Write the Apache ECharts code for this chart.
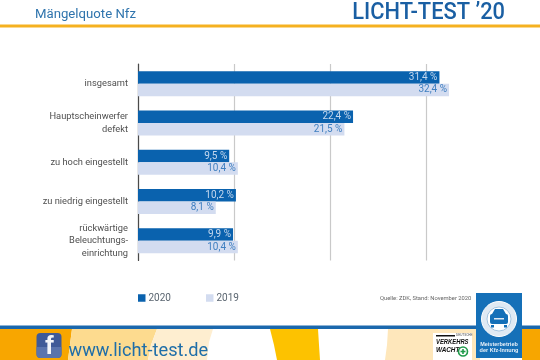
<!DOCTYPE html>
<html><head><meta charset="utf-8">
<style>html,body{margin:0;padding:0;background:#fff}#c{width:540px;height:360px}</style>
<script src="https://cdn.jsdelivr.net/npm/echarts@6/dist/echarts.min.js"></script>
</head><body><div id="c"></div>
<script>
const categories = ['insgesamt','Hauptscheinwerfer\ndefekt','zu hoch eingestellt','zu niedrig eingestellt','rückwärtige\nBeleuchtungs-\neinrichtung'];
const values2020 = [31.4,22.4,9.5,10.2,9.9];
const values2019 = [32.4,21.5,10.4,8.1,10.4];
const xTicks = {min:0,max:40,interval:10};
const FONT = 'Roboto, "Noto Sans", sans-serif';
const fmt = p => p.value.toFixed(1).replace('.',',')+' %';
const poly = (points,fill,z) => ({type:'polygon',shape:{points},style:{fill},z:z||0,silent:true});
const rect = (x,y,width,height,fill,z,r) => ({type:'rect',shape:{x,y,width,height,r:r||0},style:{fill},z:z||1,silent:true});
const text = (x,y,t,font,fill,align,z,sx) => ({type:'text',x,y,scaleX:sx||1,style:{text:t,font,fill,align:align||'left',verticalAlign:'middle'},z:z||5,silent:true});
const chart = echarts.init(document.getElementById('c'),null,{renderer:'canvas'});
chart.setOption({
  animation:false,
  backgroundColor:'#fff',
  textStyle:{fontFamily:FONT},
  grid:{left:138,top:64,width:384,height:196.5,containLabel:false},
  legend:{show:true,left:133,top:288,itemWidth:7.5,itemHeight:7.5,itemGap:35,icon:'rect',
    data:['2020','2019'],textStyle:{fontFamily:FONT,fontSize:10,color:'#5a6570',padding:[0,0,0,-2]}},
  xAxis:{type:'value',min:xTicks.min,max:xTicks.max,interval:xTicks.interval,
    axisLabel:{show:false},axisLine:{show:false},axisTick:{show:false},
    splitLine:{show:true,showMaxLine:false,lineStyle:{color:'#c9c9c9',width:1.2}}},
  yAxis:{type:'category',inverse:true,data:categories,
    axisLine:{show:true,lineStyle:{color:'#4a4a4a',width:1.2}},axisTick:{show:false},
    axisLabel:{margin:10,fontFamily:FONT,fontSize:9.3,lineHeight:12.6,color:'#4f4f4f',align:'right',padding:[6,0,0,0]}},
  series:[
    {name:'2020',type:'bar',data:values2020,barWidth:12.5,barGap:'0%',itemStyle:{color:'#0a62ae'},
     label:{show:true,position:'insideRight',distance:2,padding:[1,0,0,0],formatter:fmt,fontFamily:FONT,fontSize:10,color:'#c5d8ee'}},
    {name:'2019',type:'bar',data:values2019,barWidth:12.5,itemStyle:{color:'#d3dcf0'},
     label:{show:true,position:'insideRight',distance:2,padding:[1,0,0,0],formatter:fmt,fontFamily:FONT,fontSize:10,color:'#3f7fc0'}}
  ],
  graphic:[
    text(35,15,'Mängelquote Nfz','13.2px '+FONT,'#2f74ad'),
    text(505,12.5,'LICHT-TEST ’20','500 24px '+FONT,'#1a5fa3','right',5,0.91),
    rect(0,24.5,540,3,'#f5b120'),
    text(380,298.5,'Quelle: ZDK, Stand: November 2020','5.8px '+FONT,'#666'),
    rect(0,329,540,31,'#fff',1),
    poly([[0,329],[72,329],[68,360],[0,360]],'#f8a600',2),
    poly([[72,329],[157,329],[151,345],[148,360],[68,360]],'#fddb8f',2),
    poly([[157,329],[213,329],[209,342],[207,360],[148,360],[151,345]],'#feeed0',2),
    poly([[270,329],[318,329],[319,345],[320,360],[277,360],[274,345]],'#fdc200',2),
    poly([[388,329],[480,329],[480,360],[385,360],[387,345]],'#fee7bb',2),
    poly([[522,329],[540,329],[540,360],[522,360]],'#f7a600',2),
    rect(0,325.5,540,3.5,'#1b68ad',3),
    // Facebook icon
    rect(36.5,333,25,25,'#3f5a98',4,4),
    rect(36.5,347,25,11,'#5a74ad',4,[0,0,4,4]),
    text(45,347,'f','700 26px "Liberation Sans", sans-serif','#f2f4f8','left',5),
    text(68.5,351.5,'www.licht-test.de','18.2px '+FONT,'#1f6ea8'),
    // Verkehrswacht
    rect(433,333,39,27,'#fff',4),
    rect(436,335,19,1.5,'#111',5),
    text(456,335.5,'DEUTSCHE','3px "Liberation Sans", sans-serif','#444','left',5),
    text(436,341.5,'VERKEHRS','italic 700 7.5px "Liberation Sans", sans-serif','#111','left',5,0.78),
    text(436,350,'WACHT','italic 700 7.5px "Liberation Sans", sans-serif','#111','left',5,0.85),
    {type:'circle',shape:{cx:463,cy:351.5,r:4.5},style:{fill:'#fff',stroke:'#1f9a4a',lineWidth:1.6},z:6,silent:true},
    rect(460.5,350.7,5,1.6,'#1f9a4a',7),
    rect(462.2,349,1.6,5,'#1f9a4a',7),
    // Badge
    rect(476,293,46,65,'#1570b8',8),
    {type:'circle',shape:{cx:499,cy:319,r:17.5},style:{fill:'#dfe9f3',stroke:'#fff',lineWidth:1},z:9,silent:true},
    {type:'circle',shape:{cx:499,cy:319,r:12},style:{fill:'#fff',stroke:'#8fb6d8',lineWidth:0.8},z:10,silent:true},
    rect(490,314,18,10,'#1570b8',11,2),
    poly([[492,314],[495,309],[503,309],[506,314]],'#1570b8',11),
    rect(491,325,3,2.5,'#1570b8',11),
    rect(504,325,3,2.5,'#1570b8',11),
    rect(494,318,10,1.5,'#dfe9f3',12),
    text(499,344,'Meisterbetrieb','700 5.5px "Liberation Sans", sans-serif','#e8f0f8','center',12),
    text(499,350,'der Kfz-Innung','700 5.5px "Liberation Sans", sans-serif','#e8f0f8','center',12)
  ]
});
</script></body></html>
